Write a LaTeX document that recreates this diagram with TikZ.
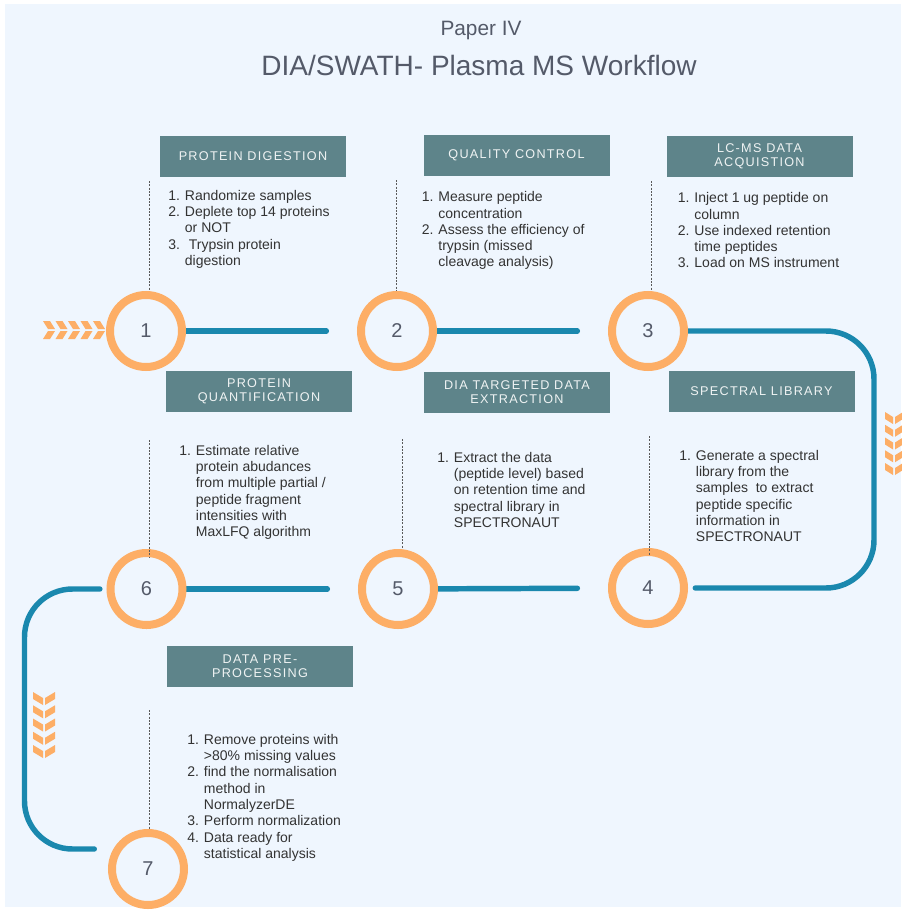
\documentclass[tikz,border=0pt]{standalone}
\usepackage{fontspec}
\setmainfont{Liberation Sans}
\newfontfamily\capsfont[LetterSpace=10]{Liberation Sans}
\usetikzlibrary{backgrounds}
\definecolor{pagebg}{HTML}{EFF6FE}
\definecolor{flowblue}{HTML}{1A88AE}
\definecolor{ringorange}{HTML}{FDAE66}
\definecolor{headteal}{HTML}{5E848A}
\definecolor{titlegray}{HTML}{545A69}
\definecolor{bodygray}{HTML}{333333}
\newcommand{\itm}[1]{\makebox[12.5pt][l]{#1}}
\newcommand{\ind}{\hspace*{12.5pt}}
\tikzset{
  ring/.style={circle, draw=ringorange, line width=6pt, minimum size=54pt, inner sep=0pt,
    text=titlegray, font=\fontsize{15}{15}\selectfont},
  header/.style={fill=headteal, minimum width=139.5pt, minimum height=30.75pt, inner sep=0pt,
    align=center, text=white!90!headteal, font=\capsfont\fontsize{9.5}{10.5}\selectfont},
  steps/.style={anchor=north west, inner sep=0pt, align=left, text=bodygray,
    font=\fontsize{10.5}{12.2}\selectfont},
  flow/.style={draw=flowblue, line width=4.1pt, line cap=round},
  stem/.style={draw=black!65, line width=0.6pt, dash pattern=on 1.5pt off 1pt},
  chev/.style={fill=ringorange, draw=none}
}
\begin{document}
\begin{tikzpicture}[x=0.75pt, y=-0.75pt]
    \useasboundingbox (0,0) rectangle (901,910);

    % PAGE BACKGROUND
    \begin{scope}[on background layer]
        \fill[white] (0,0) rectangle (901,910);
        \fill[pagebg] (5,4) rectangle (901,907);
    \end{scope}

    % TITLE
    \node[anchor=base, text=titlegray, font=\fontsize{15.6}{15.6}\selectfont] (paper) at (481,36) {Paper IV};
    \node[anchor=base, text=titlegray, font=\fontsize{21}{21}\selectfont] (title) at (479,75) {DIA/SWATH- Plasma MS Workflow};

    % STEP RINGS
    \node[ring] (c1) at (146,331) {1};
    \node[ring] (c2) at (397,331) {2};
    \node[ring] (c3) at (648,331) {3};
    \node[ring] (c4) at (648,588) {4};
    \node[ring] (c5) at (398,589) {5};
    \node[ring] (c6) at (146.5,589) {6};
    \node[ring] (c7) at (148,869) {7};

    % LOOP CORNERS
    \coordinate (rt) at (874,331);
    \coordinate (rb) at (874,588);
    \coordinate (lt) at (24.5,589);
    \coordinate (lb) at (24.5,849);
    \coordinate (e7) at (94.25,849);

    % FLOW LINE (behind the rings)
    \begin{scope}[on background layer]
        \draw[flow, shorten >=23pt] (c1) -- (c2);
        \draw[flow, shorten >=23pt] (c2) -- (c3);
        \draw[flow, rounded corners=36pt, shorten >=5.5pt] (c3) -- (rt) -- (rb) -- (c4);
        \draw[flow, shorten >=23pt] (c5) -- (c4);
        \draw[flow, shorten >=23pt] (c6) -- (c5);
        \draw[flow, rounded corners=36pt, shorten <=5pt] (c6) -- (lt) -- (lb) -- (e7);
    \end{scope}

    % HEADERS
    \node[header] (h1) at (253,156.5) {PROTEIN DIGESTION};
    \node[header] (h2) at (516.5,155.5) {QUALITY CONTROL};
    \node[header] (h3) at (759.5,156.5) {LC-MS DATA\\ACQUISTION};
    \node[header] (h4) at (761.5,391.5) {SPECTRAL LIBRARY};
    \node[header] (h5) at (517,392) {DIA TARGETED DATA\\EXTRACTION};
    \node[header] (h6) at (259,391.5) {PROTEIN\\QUANTIFICATION};
    \node[header] (h7) at (260,666.5) {DATA PRE-\\PROCESSING};

    % STEP TEXTS
    \node[steps] (t1) at (168,190) {\itm{1.}Randomize samples\\
        \itm{2.}Deplete top 14 proteins\\ \ind or NOT\\
        \itm{3.}\ Trypsin protein\\ \ind digestion};
    \node[steps] (t2) at (421.5,191.5) {\itm{1.}Measure peptide\\ \ind concentration\\
        \itm{2.}Assess the efficiency of\\ \ind trypsin (missed\\ \ind cleavage analysis)};
    \node[steps] (t3) at (677.5,192.5) {\itm{1.}Inject 1 ug peptide on\\ \ind column\\
        \itm{2.}Use indexed retention\\ \ind time peptides\\
        \itm{3.}Load on MS instrument};
    \node[steps] (t4) at (679,450) {\itm{1.}Generate a spectral\\ \ind library from the\\
        \ind samples\ \ to extract\\ \ind peptide specific\\ \ind information in\\ \ind SPECTRONAUT};
    \node[steps] (t5) at (437,452) {\itm{1.}Extract the data\\ \ind (peptide level) based\\
        \ind on retention time and\\ \ind spectral library in\\ \ind SPECTRONAUT};
    \node[steps] (t6) at (179,445) {\itm{1.}Estimate relative\\ \ind protein abudances\\
        \ind from multiple partial /\\ \ind peptide fragment\\ \ind intensities with\\ \ind MaxLFQ algorithm};
    \node[steps] (t7) at (187,734) {\itm{1.}Remove proteins with\\ \ind >80\% missing values\\
        \itm{2.}find the normalisation\\ \ind method in\\ \ind NormalyzerDE\\
        \itm{3.}Perform normalization\\
        \itm{4.}Data ready for\\ \ind statistical analysis};

    % DASHED STEMS
    \coordinate (d1) at (149,181);
    \coordinate (d2) at (396,180);
    \coordinate (d3) at (651,181);
    \coordinate (d4) at (649,436);
    \coordinate (d5) at (402,439);
    \coordinate (d6) at (149,440);
    \coordinate (d7) at (149,710);
    \draw[stem] (d1) -- (d1 |- c1.north);
    \draw[stem] (d2) -- (d2 |- c2.north);
    \draw[stem] (d3) -- (d3 |- c3.north);
    \draw[stem, shorten >=-6pt] (d4) -- (d4 |- c4.north);
    \draw[stem] (d5) -- (d5 |- c5.north);
    \draw[stem, shorten >=-6pt] (d6) -- (d6 |- c6.north);
    \draw[stem] (d7) -- (d7 |- c7.north);

    % CHEVRONS
    \foreach \x in {43,55.5,68,80.5,93} {
        \fill[chev] (\x,321) -- ++(7,0) -- ++(5,8) -- ++(-7,0) -- cycle;
        \fill[chev] (\x,339) -- ++(7,0) -- ++(5,-8) -- ++(-7,0) -- cycle;
    }
    \foreach \k in {0,...,4} {
        \fill[chev] (885,412+12.75*\k) -- ++(8,5) -- ++(0,7) -- ++(-8,-5) -- cycle;
        \fill[chev] (903,412+12.75*\k) -- ++(-8,5) -- ++(0,7) -- ++(8,-5) -- cycle;
        \fill[chev] (33,692+13.25*\k) -- ++(10,6) -- ++(0,7) -- ++(-10,-6) -- cycle;
        \fill[chev] (55,692+13.25*\k) -- ++(-10,6) -- ++(0,7) -- ++(10,-6) -- cycle;
    }
\end{tikzpicture}
\end{document}
